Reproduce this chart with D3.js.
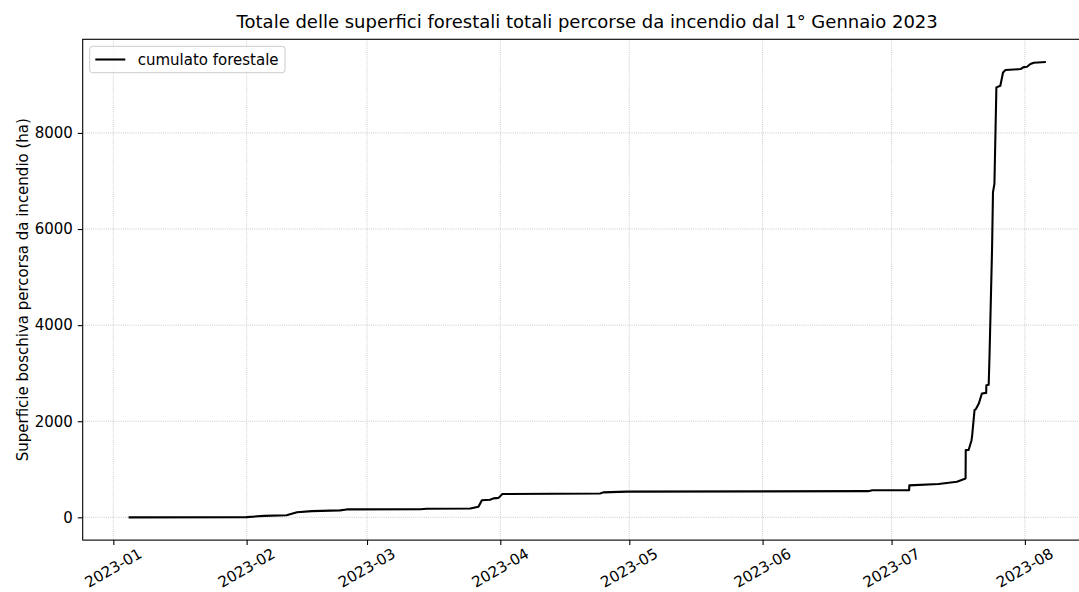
<!DOCTYPE html>
<html>
<head>
<meta charset="utf-8">
<script src="https://cdn.jsdelivr.net/npm/d3@7"></script>
<style>
  body { margin: 0; background: #fff; }
  svg { display: block; font-family: 'DejaVu Sans', sans-serif; }
  .tick text { fill: #000; }
</style>
</head>
<body>
<div id="chart-area"></div>
<script>
// cumulative burnt forest area (ha)
var dates = [
  '2023-01-04T13:00Z', '2023-02-01', '2023-02-05', '2023-02-10T07:00Z', '2023-02-12T17:00Z',
  '2023-02-16T05:00Z', '2023-02-22T17:00Z', '2023-02-24T07:00Z', '2023-03-13T10:00Z', '2023-03-14T22:00Z',
  '2023-03-25', '2023-03-26T22:00Z', '2023-03-27T17:00Z', '2023-03-29T15:00Z', '2023-03-30T10:00Z',
  '2023-03-31T14:00Z', '2023-04-01T12:00Z', '2023-04-24T05:00Z', '2023-04-24T22:00Z', '2023-04-30T12:00Z',
  '2023-06-25T14:00Z', '2023-06-26T12:00Z', '2023-07-05T02:00Z', '2023-07-05T03:00Z', '2023-07-11T22:00Z',
  '2023-07-16T05:00Z', '2023-07-18T05:00Z', '2023-07-18T06:00Z', '2023-07-18T22:00Z', '2023-07-19T14:00Z',
  '2023-07-19T17:00Z', '2023-07-20T07:00Z', '2023-07-20T14:00Z', '2023-07-21T07:00Z', '2023-07-22T00:00Z',
  '2023-07-23T00:00Z', '2023-07-23T01:00Z', '2023-07-23T14:00Z', '2023-07-23T19:00Z', '2023-07-24T09:00Z',
  '2023-07-24T14:00Z', '2023-07-24T22:00Z', '2023-07-25T09:00Z', '2023-07-26T07:00Z', '2023-07-26T22:00Z',
  '2023-07-27T12:00Z', '2023-07-31', '2023-07-31T14:00Z', '2023-08-01T12:00Z', '2023-08-02T07:00Z',
  '2023-08-03T02:00Z', '2023-08-05T21:00Z'
]
var cumulato = [
  0, 5, 30, 45, 105,
  130, 145, 165, 170, 180,
  185, 220, 355, 365, 395,
  405, 485, 495, 520, 535,
  545, 562, 567, 665, 692,
  740, 810, 1398, 1400, 1600,
  1675, 2230, 2250, 2368, 2576,
  2590, 2750, 2760, 3408, 5623,
  6766, 6940, 8948, 8983, 9259,
  9309, 9330, 9364, 9378, 9434,
  9461, 9475
]
var yTicks = [0, 2000, 4000, 6000, 8000]

var title = 'Totale delle superfici forestali totali percorse da incendio dal 1° Gennaio 2023'
var yTitle = 'Superficie boschiva percorsa da incendio (ha)'
var seriesName = 'cumulato forestale'

var data = dates.map((d, i) => ({ date: d3.isoParse(d), value: cumulato[i] }))

var margin = { top: 39.3, left: 82.7 }
var width = 1009
var height = 500.8
var fs = 15

var svg = d3.select('#chart-area').append('svg')
    .attr('width', 1079)
    .attr('height', 592)

var g = svg.append('g').attr('transform', `translate(${ margin.left }, ${ margin.top })`)

// matplotlib style 5% margins around the data
var xExt = d3.extent(data, d => +d.date)
var xPad = (xExt[1] - xExt[0]) * 0.05
var yExt = d3.extent(data, d => d.value)
var yPad = (yExt[1] - yExt[0]) * 0.05

var x = d3.scaleUtc().domain([new Date(xExt[0] - xPad), new Date(xExt[1] + xPad)]).range([0, width])
var y = d3.scaleLinear().domain([yExt[0] - yPad, yExt[1] + yPad]).range([height, 0])

var monthTicks = d3.utcMonth.range(d3.utcMonth.ceil(x.domain()[0]), x.domain()[1])

// grid
g.append('g').selectAll('line').data(monthTicks).enter().append('line')
    .attr('x1', d => x(d)).attr('x2', d => x(d))
    .attr('y1', 0).attr('y2', height)
    .attr('stroke', '#b0b0b0').attr('stroke-width', 0.8).attr('stroke-dasharray', '0.8,1.32')
g.append('g').selectAll('line').data(yTicks).enter().append('line')
    .attr('x1', 0).attr('x2', width)
    .attr('y1', d => y(d)).attr('y2', d => y(d))
    .attr('stroke', '#b0b0b0').attr('stroke-width', 0.8).attr('stroke-dasharray', '0.8,1.32')

// line
var line = d3.line().x(d => x(d.date)).y(d => y(d.value))
g.append('path').datum(data)
    .attr('d', line)
    .attr('fill', 'none')
    .attr('stroke', '#000')
    .attr('stroke-width', 2.08)
    .attr('stroke-linejoin', 'round')

// axes
var xAxisGroup = g.append('g').attr('transform', `translate(0, ${ height })`)
    .call(d3.axisBottom(x).tickValues(monthTicks).tickFormat(d3.utcFormat('%Y-%m')).tickSize(4.9).tickPadding(4.9))
xAxisGroup.select('.domain').remove()
xAxisGroup.selectAll('.tick line').attr('stroke', '#000').attr('stroke-width', 1.1)
xAxisGroup.selectAll('.tick text')
    .attr('font-size', fs + 'px')
    .attr('font-family', 'DejaVu Sans')
    .attr('text-anchor', 'middle')
    .attr('dy', null)
    .attr('y', null)
    .attr('transform', function () {
      var w = this.getComputedTextLength()
      var a = 0.76 * fs, dd = 0.236 * fs
      return `translate(${ 0.25 * (a - dd) }, ${ 6.8 + 0.25 * w + 0.866 * a }) rotate(-30)`
    })

var yAxisGroup = g.append('g')
    .call(d3.axisLeft(y).tickValues(yTicks).tickFormat(d3.format('d')).tickSize(4.9).tickPadding(4.9))
yAxisGroup.select('.domain').remove()
yAxisGroup.selectAll('.tick line').attr('stroke', '#000').attr('stroke-width', 1.1)
yAxisGroup.selectAll('.tick text').attr('font-size', fs + 'px').attr('font-family', 'DejaVu Sans')

// spines
g.append('rect')
    .attr('width', width).attr('height', height)
    .attr('fill', 'none').attr('stroke', '#000').attr('stroke-width', 1.1)

// labels
svg.append('text')
    .attr('x', margin.left + width / 2)
    .attr('y', 28)
    .attr('text-anchor', 'middle')
    .attr('font-size', '18px')
    .text(title)

svg.append('text')
    .attr('transform', `translate(28, ${ margin.top + height / 2 }) rotate(-90)`)
    .attr('text-anchor', 'middle')
    .attr('font-size', fs + 'px')
    .text(yTitle)

// legend
var legend = g.append('g').attr('transform', 'translate(7, 7)')
legend.append('rect')
    .attr('width', 195.3).attr('height', 26.4).attr('rx', 2.8)
    .attr('fill', '#fff').attr('fill-opacity', 0.8)
    .attr('stroke', '#cccccc').attr('stroke-width', 1)
legend.append('line')
    .attr('x1', 5.6).attr('x2', 35.6).attr('y1', 13.2).attr('y2', 13.2)
    .attr('stroke', '#000').attr('stroke-width', 2.08)
legend.append('text')
    .attr('x', 48).attr('y', 18.3)
    .attr('font-size', fs + 'px')
    .text(seriesName)
</script>
</body>
</html>
